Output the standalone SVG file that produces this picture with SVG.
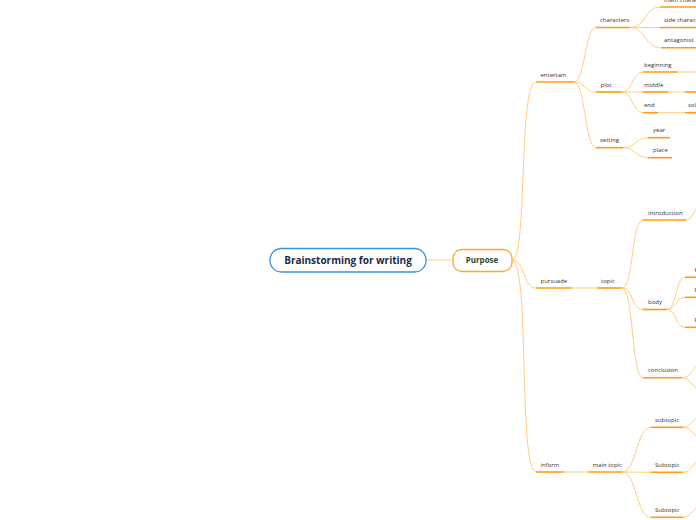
<svg xmlns="http://www.w3.org/2000/svg" width="696" height="520" viewBox="0 0 696 520">
<style>
.c{fill:none;stroke:#ffcd80;stroke-width:1}
.u{fill:none;stroke:#ff9b12;stroke-width:1.6}
.t{font-family:"Open Sans","Noto Sans","Liberation Sans",sans-serif;font-size:6px;fill:#333}
</style>
<rect width="696" height="520" fill="#fff"/>
<g id="connectors">
<path class="c" d="M426,260 L453,260"/>
<path class="c" d="M512,260 C528,260 518,82 536,82"/>
<path class="c" d="M512,260 C526,260 522,288 536,288"/>
<path class="c" d="M512,260 C530,260 518,472 536,472"/>
<path class="c" d="M574,82 C585,82 585,27.5 596,27.5"/>
<path class="c" d="M574,82 C585,82 585,92 596,92"/>
<path class="c" d="M574,82 C585,82 585,147.7 596,147.7"/>
<path class="c" d="M630,27.5 C646,27.5 645,7 660,7"/>
<path class="c" d="M630,27.5 L660,27.5"/>
<path class="c" d="M630,27.5 C646,27.5 645,47.7 660,47.7"/>
<path class="c" d="M622,92 C633,92 632,72 643,72"/>
<path class="c" d="M622,92 L643,92"/>
<path class="c" d="M622,92 C633,92 632,112.7 643,112.7"/>
<path class="c" d="M677,72 L696,72"/>
<path class="c" d="M668,92 L685,92"/>
<path class="c" d="M658,112.7 L685,112.7"/>
<path class="c" d="M623,147.7 C636,147.7 635,137.7 648,137.7"/>
<path class="c" d="M623,147.7 C636,147.7 635,157.7 648,157.7"/>
<path class="c" d="M572,288 L597,288"/>
<path class="c" d="M622,288 C634,288 631,220 643,220"/>
<path class="c" d="M622,288 C634,288 631,309.5 643,309.5"/>
<path class="c" d="M622,288 C634,288 631,377.7 643,377.7"/>
<path class="c" d="M686,220 C694,220 694,205 704,202"/>
<path class="c" d="M667,309.5 C677,309.5 675,277.3 685,277.3"/>
<path class="c" d="M667,309.5 C677,309.5 675,297.3 685,297.3"/>
<path class="c" d="M667,309.5 C677,309.5 675,327.3 685,327.3"/>
<path class="c" d="M682,377.7 C692,377.7 692,366 704,362"/>
<path class="c" d="M682,377.7 C692,377.7 692,389 704,393"/>
<path class="c" d="M564,472 L588,472"/>
<path class="c" d="M622,472 C637,472 636,427.3 651,427.3"/>
<path class="c" d="M622,472 L651,472.3"/>
<path class="c" d="M622,472 C637,472 636,517.3 651,517.3"/>
<path class="c" d="M683,427.3 C692,427.3 692,418 704,414"/>
<path class="c" d="M683,427.3 C692,427.3 692,436 704,440"/>
<path class="c" d="M683,472.3 C692,472.3 692,462 704,458"/>
<path class="c" d="M683,517.3 C692,517.3 692,507 704,503"/>
</g>
<g id="root">
<rect x="270" y="248.5" width="156" height="23.5" rx="11.5" fill="#fff" stroke="#3a90da" stroke-width="1.3"/>
<text x="348" y="264" text-anchor="middle" font-family="'Open Sans','Noto Sans','Liberation Sans',sans-serif" font-size="10" font-weight="bold" fill="#1b2a4a">Brainstorming for writing</text>
</g>
<g id="purpose">
<rect x="453" y="249.5" width="59" height="22" rx="9" fill="#fff" stroke="#ffa726" stroke-width="1.3"/>
<text x="482" y="263" text-anchor="middle" font-family="'Open Sans','Noto Sans','Liberation Sans',sans-serif" font-size="8" font-weight="bold" fill="#1d4a3a">Purpose</text>
</g>
<g id="entertain"><text class="t" x="540.5" y="77">entertain</text><path class="u" d="M536,82 H574"/></g>
<g id="characters"><text class="t" x="600" y="22">characters</text><path class="u" d="M596,27.5 H630"/></g>
<g id="main-character"><text class="t" x="664" y="2">main character</text><path class="u" d="M660,7 H696"/></g>
<g id="side-character"><text class="t" x="664" y="22">side character</text><path class="u" d="M660,27.5 H696"/></g>
<g id="antagonist"><text class="t" x="664" y="42">antagonist</text><path class="u" d="M661,47.7 H696"/></g>
<g id="plot"><text class="t" x="600.5" y="86.5">plot</text><path class="u" d="M596,92 H622"/></g>
<g id="beginning"><text class="t" x="644" y="66.5">beginning</text><path class="u" d="M643,72 H677"/></g>
<g id="middle"><text class="t" x="644" y="86.5">middle</text><path class="u" d="M643,92 H668"/></g>
<g id="middle-child"><path class="u" d="M685,92 H696"/></g>
<g id="end"><text class="t" x="644" y="107">end</text><path class="u" d="M643,112.7 H658"/></g>
<g id="solution"><text class="t" x="688" y="107">solution</text><path class="u" d="M685,112.7 H696"/></g>
<g id="setting"><text class="t" x="600" y="142">setting</text><path class="u" d="M596,147.7 H623"/></g>
<g id="year"><text class="t" x="653" y="132">year</text><path class="u" d="M648,137.7 H670"/></g>
<g id="place"><text class="t" x="653" y="152">place</text><path class="u" d="M648,157.7 H672"/></g>
<g id="pursuade"><text class="t" x="540.5" y="282.5">pursuade</text><path class="u" d="M536,288 H572"/></g>
<g id="topic"><text class="t" x="601" y="282.5">topic</text><path class="u" d="M597,288 H622"/></g>
<g id="introduction"><text class="t" x="648" y="214.5">introduction</text><path class="u" d="M643,220 H686"/></g>
<g id="body"><text class="t" x="648" y="304">body</text><path class="u" d="M643,309.5 H667"/></g>
<g id="body-1"><text class="t" x="694.5" y="272">Point 1</text><path class="u" d="M685,277.3 H696"/></g>
<g id="body-2"><text class="t" x="694.5" y="292">Point 2</text><path class="u" d="M685,297.3 H696"/></g>
<g id="body-3"><text class="t" x="694.5" y="322">Point 3</text><path class="u" d="M685,327.3 H696"/></g>
<g id="conclusion"><text class="t" x="648" y="372">conclusion</text><path class="u" d="M643,377.7 H682"/></g>
<g id="inform"><text class="t" x="540.5" y="466.5">inform</text><path class="u" d="M536,472 H564"/></g>
<g id="main-topic"><text class="t" x="592.5" y="466.5">main topic</text><path class="u" d="M588,472 H622"/></g>
<g id="subtopic-1"><text class="t" x="655" y="422">subtopic</text><path class="u" d="M651,427.3 H683"/></g>
<g id="subtopic-2"><text class="t" x="655" y="467">Subtopic</text><path class="u" d="M651,472.3 H683"/></g>
<g id="subtopic-3"><text class="t" x="655" y="512">Subtopic</text><path class="u" d="M651,517.3 H683"/></g>
</svg>
